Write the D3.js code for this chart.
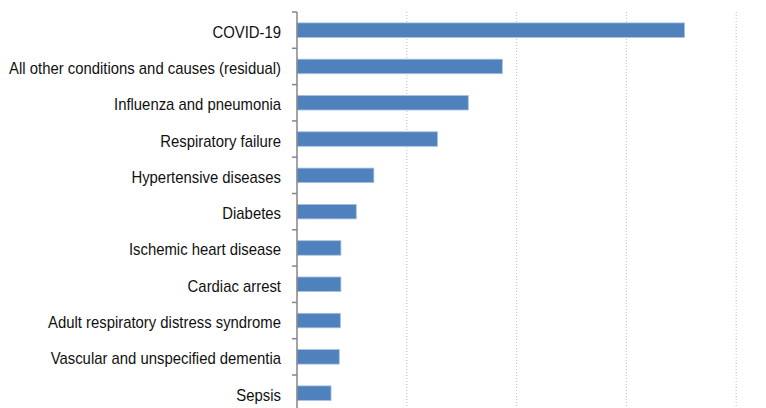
<!DOCTYPE html>
<html>
<head>
<meta charset="utf-8">
<script src="https://cdn.jsdelivr.net/npm/d3@7"></script>
<style>
  body { margin: 0; background: #fff; }
  .label { font-family: "Liberation Sans", Arial, sans-serif; font-size: 16px; fill: #111; }
</style>
</head>
<body>
<div id="chart"></div>
<script>
// categories top to bottom
var causes = [
  "COVID-19",
  "All other conditions and causes (residual)",
  "Influenza and pneumonia",
  "Respiratory failure",
  "Hypertensive diseases",
  "Diabetes",
  "Ischemic heart disease",
  "Cardiac arrest",
  "Adult respiratory distress syndrome",
  "Vascular and unspecified dementia",
  "Sepsis"
];
// values (one gridline = 10)
var values = [35.3, 18.7, 15.6, 12.8, 7.0, 5.4, 4.0, 4.0, 3.95, 3.85, 3.1];
var gridTicks = [0, 10, 20, 30, 40];

var width = 766, height = 408;
var margin = { top: 12, left: 297, right: 30 };
var bandH = 36.3;

var svg = d3.select("#chart").append("svg")
  .attr("width", width)
  .attr("height", height);

var x = d3.scaleLinear().domain([0, 40]).range([margin.left, margin.left + 4 * 109.8]);
var y = d3.scaleBand().domain(causes)
  .range([margin.top, margin.top + causes.length * bandH])
  .paddingInner(0.6).paddingOuter(0.3);

// dotted gridlines
svg.selectAll("line.grid")
  .data(gridTicks.slice(1))
  .enter().append("line")
  .attr("class", "grid")
  .attr("x1", d => x(d)).attr("x2", d => x(d))
  .attr("y1", margin.top).attr("y2", height)
  .attr("stroke", "#bdbdbd")
  .attr("stroke-width", 1)
  .attr("stroke-dasharray", "1,2");

// bars
svg.selectAll("rect.bar")
  .data(values)
  .enter().append("rect")
  .attr("class", "bar")
  .attr("x", x(0))
  .attr("y", (d, i) => y(causes[i]))
  .attr("width", d => x(d) - x(0))
  .attr("height", y.bandwidth())
  .attr("fill", "#4f81bd")
  .attr("stroke", "#a9c1df")
  .attr("stroke-width", 0.8);

// category axis, ticks between bands
var axis = svg.append("g");
axis.append("line")
  .attr("x1", x(0)).attr("x2", x(0))
  .attr("y1", margin.top).attr("y2", height)
  .attr("stroke", "#868686").attr("stroke-width", 1.5);
axis.selectAll("line.tick")
  .data(d3.range(causes.length + 1))
  .enter().append("line")
  .attr("class", "tick")
  .attr("x1", x(0) - 5).attr("x2", x(0))
  .attr("y1", i => margin.top + i * bandH)
  .attr("y2", i => margin.top + i * bandH)
  .attr("stroke", "#868686").attr("stroke-width", 1.5);

// narrow-looking labels: squeeze horizontally
svg.selectAll("text.label")
  .data(causes)
  .enter().append("text")
  .attr("class", "label")
  .attr("transform", d => "translate(281," + (y(d) + y.bandwidth() / 2) + ") scale(0.93,1)")
  .attr("dy", "0.47em")
  .attr("text-anchor", "end")
  .text(d => d);
</script>
</body>
</html>
